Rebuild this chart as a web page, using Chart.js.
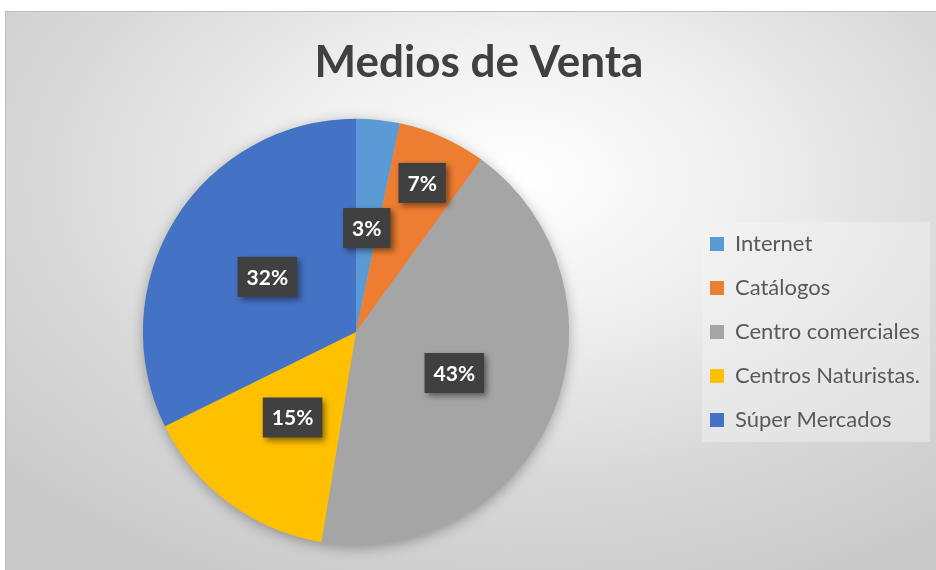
<!DOCTYPE html>
<html>
<head>
<meta charset="utf-8">
<script src="https://cdn.jsdelivr.net/npm/chart.js@4"></script>
<style>
  html, body { margin: 0; padding: 0; background: #ffffff; overflow: hidden; }
  #frame {
    position: absolute; left: 5px; top: 11px; width: 931px; height: 559px;
    background: radial-gradient(ellipse 75% 80% at 55% 30%, #ffffff 0%, #f1f1f1 30%, #dadada 65%, #c9c9c9 100%);
    box-shadow: inset 1px 1px 0 #bdbdbd;
  }
  #frame canvas { position: absolute; left: 0; top: 0; }
</style>
</head>
<body>
<div id="frame"><canvas id="myChart" width="931" height="559"></canvas></div>
<script>
const categories = ['Internet', 'Catálogos', 'Centro comerciales', 'Centros Naturistas.', 'Súper Mercados'];
const shares = [3.3, 6.7, 42.6, 15.1, 32.3];
const sliceColors = ['#5b9bd5', '#ed7d31', '#a5a5a5', '#ffc000', '#4472c4'];

document.addEventListener('DOMContentLoaded', () => {
    // how far out along the radius each percent label sits
    const labelRadius = [0.49, 0.765, 0.5, 0.5, 0.49];

    // legend width has to be known to place the pie where it is in the picture
    const legendFont = 22;
    const probe = document.createElement('canvas').getContext('2d');
    probe.font = legendFont + 'px Lato';
    const widest = Math.max(...categories.map(c => probe.measureText(c).width));
    const legendWidth = 22 + 14 + legendFont / 2 + widest + 10;
    const legendLeft = 683;
    const padRight = 931 - legendLeft - legendWidth;
    const padLeft = 2 * 351 - legendLeft;

    const pieShadow = {
        id: 'pieShadow',
        beforeDatasetsDraw(chart) {
            const arc = chart.getDatasetMeta(0).data[0];
            if (!arc) return;
            const ctx = chart.ctx;
            ctx.save();
            ctx.shadowColor = 'rgba(0,0,0,0.35)';
            ctx.shadowBlur = 14;
            ctx.shadowOffsetY = 3;
            ctx.fillStyle = '#b0b0b0';
            ctx.beginPath();
            ctx.arc(arc.x, arc.y, arc.outerRadius - 1, 0, Math.PI * 2);
            ctx.fill();
            ctx.restore();
        }
    };

    const legendPanel = {
        id: 'legendPanel',
        beforeDraw(chart) {
            const boxes = chart.legend && chart.legend.legendHitBoxes;
            if (!boxes || !boxes.length) return;
            const first = boxes[0], last = boxes[boxes.length - 1];
            const x = first.left - 8, y = first.top - 11;
            const w = chart.width - 6 - x;
            const h = last.top + last.height + 11 - y;
            const ctx = chart.ctx;
            ctx.save();
            ctx.fillStyle = 'rgba(245,245,245,0.45)';
            ctx.fillRect(x, y, w, h);
            ctx.restore();
        }
    };

    const titleShift = {
        id: 'titleShift',
        afterLayout(chart) {
            const t = chart.titleBlock;
            if (!t) return;
            const dx = 474 - (t.left + t.right) / 2;
            t.left += dx;
            t.right += dx;
        }
    };

    const sliceLabels = {
        id: 'sliceLabels',
        afterDatasetsDraw(chart) {
            const ctx = chart.ctx;
            const meta = chart.getDatasetMeta(0);
            ctx.save();
            ctx.font = 'bold 21px Lato';
            ctx.textAlign = 'center';
            ctx.textBaseline = 'middle';
            meta.data.forEach((arc, i) => {
                const mid = (arc.startAngle + arc.endAngle) / 2;
                const r = arc.outerRadius * labelRadius[i];
                const x = arc.x + Math.cos(mid) * r;
                const y = arc.y + Math.sin(mid) * r;
                const text = Math.round(shares[i]) + '%';
                const w = ctx.measureText(text).width + 18;
                const h = 40;
                ctx.save();
                ctx.shadowColor = 'rgba(0,0,0,0.45)';
                ctx.shadowBlur = 6;
                ctx.shadowOffsetX = 3;
                ctx.shadowOffsetY = 3;
                ctx.fillStyle = '#404040';
                ctx.fillRect(x - w / 2, y - h / 2, w, h);
                ctx.restore();
                ctx.fillStyle = '#ffffff';
                ctx.fillText(text, x, y + 1);
            });
            ctx.restore();
        }
    };

    const ctx = document.getElementById('myChart');
    const myChart = new Chart(ctx, {
        type: 'pie',
        data: {
            labels: categories,
            datasets: [{
                data: shares,
                backgroundColor: sliceColors,
                borderWidth: 0
            }]
        },
        options: {
            responsive: false,
            animation: false,
            layout: {
                padding: { left: padLeft, right: padRight, top: 0, bottom: 25 }
            },
            plugins: {
                title: {
                    display: true,
                    text: 'Medios de Venta',
                    color: '#404040',
                    font: { family: 'Lato', size: 44, weight: 'bold' },
                    padding: { top: 25, bottom: 30 }
                },
                legend: {
                    position: 'right',
                    fullSize: false,
                    labels: {
                        boxWidth: 14,
                        boxHeight: 14,
                        padding: 22,
                        color: '#595959',
                        font: { family: 'Lato', size: legendFont }
                    }
                },
                tooltip: { enabled: false }
            }
        },
        plugins: [pieShadow, legendPanel, titleShift, sliceLabels]
    });
});
</script>
</body>
</html>
